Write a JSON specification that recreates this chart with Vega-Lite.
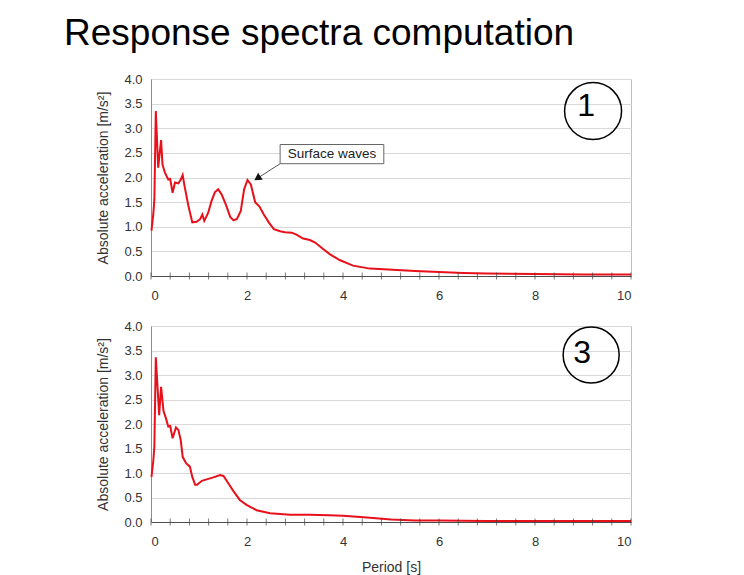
{
  "$schema": "https://vega.github.io/schema/vega-lite/v6.json",
  "autosize": {"type": "pad"},
  "padding": {"left": 64, "top": 14, "right": 113, "bottom": 5},
  "background": "white",
  "title": {
    "text": "Response spectra computation",
    "anchor": "start",
    "frame": "group",
    "font": "Liberation Sans",
    "fontSize": 37,
    "fontWeight": "normal",
    "color": "#000000",
    "baseline": "alphabetic",
    "dx": -87,
    "offset": -9
  },
  "datasets": {
    "motion1": [
      {"T": 0.01, "a": 0.92}, {"T": 0.05, "a": 1.28}, {"T": 0.07, "a": 1.55}, {"T": 0.10, "a": 3.35},
      {"T": 0.15, "a": 2.20}, {"T": 0.21, "a": 2.76}, {"T": 0.24, "a": 2.26}, {"T": 0.29, "a": 2.10},
      {"T": 0.36, "a": 1.96}, {"T": 0.40, "a": 1.97}, {"T": 0.45, "a": 1.69}, {"T": 0.50, "a": 1.90},
      {"T": 0.57, "a": 1.88}, {"T": 0.62, "a": 1.96}, {"T": 0.66, "a": 2.05}, {"T": 0.70, "a": 1.82},
      {"T": 0.78, "a": 1.42}, {"T": 0.86, "a": 1.09}, {"T": 0.95, "a": 1.10}, {"T": 1.02, "a": 1.15},
      {"T": 1.07, "a": 1.25}, {"T": 1.11, "a": 1.12}, {"T": 1.19, "a": 1.28}, {"T": 1.26, "a": 1.52},
      {"T": 1.33, "a": 1.70}, {"T": 1.40, "a": 1.76}, {"T": 1.47, "a": 1.66}, {"T": 1.56, "a": 1.45},
      {"T": 1.65, "a": 1.20}, {"T": 1.72, "a": 1.13}, {"T": 1.79, "a": 1.16}, {"T": 1.87, "a": 1.32},
      {"T": 1.94, "a": 1.76}, {"T": 2.01, "a": 1.95}, {"T": 2.08, "a": 1.86}, {"T": 2.17, "a": 1.50},
      {"T": 2.26, "a": 1.41}, {"T": 2.35, "a": 1.25}, {"T": 2.46, "a": 1.08}, {"T": 2.56, "a": 0.95},
      {"T": 2.69, "a": 0.91}, {"T": 2.79, "a": 0.89}, {"T": 2.93, "a": 0.88}, {"T": 3.03, "a": 0.84},
      {"T": 3.17, "a": 0.76}, {"T": 3.31, "a": 0.73}, {"T": 3.42, "a": 0.68}, {"T": 3.56, "a": 0.57},
      {"T": 3.73, "a": 0.44}, {"T": 3.94, "a": 0.32}, {"T": 4.21, "a": 0.21}, {"T": 4.56, "a": 0.15},
      {"T": 4.94, "a": 0.13}, {"T": 5.5, "a": 0.10}, {"T": 6.0, "a": 0.08}, {"T": 6.5, "a": 0.06},
      {"T": 7.0, "a": 0.05}, {"T": 8.0, "a": 0.04}, {"T": 9.0, "a": 0.03}, {"T": 10.0, "a": 0.03}
    ],
    "motion3": [
      {"T": 0.01, "a": 0.92}, {"T": 0.05, "a": 1.27}, {"T": 0.07, "a": 1.54}, {"T": 0.10, "a": 3.36},
      {"T": 0.17, "a": 2.18}, {"T": 0.21, "a": 2.76}, {"T": 0.26, "a": 2.27}, {"T": 0.31, "a": 2.12},
      {"T": 0.36, "a": 1.95}, {"T": 0.40, "a": 1.96}, {"T": 0.45, "a": 1.71}, {"T": 0.52, "a": 1.93},
      {"T": 0.57, "a": 1.88}, {"T": 0.62, "a": 1.67}, {"T": 0.66, "a": 1.33}, {"T": 0.73, "a": 1.20},
      {"T": 0.81, "a": 1.13}, {"T": 0.86, "a": 0.92}, {"T": 0.92, "a": 0.76}, {"T": 0.96, "a": 0.76},
      {"T": 1.06, "a": 0.84}, {"T": 1.16, "a": 0.87}, {"T": 1.30, "a": 0.91}, {"T": 1.44, "a": 0.96},
      {"T": 1.51, "a": 0.94}, {"T": 1.61, "a": 0.79}, {"T": 1.71, "a": 0.64}, {"T": 1.85, "a": 0.45},
      {"T": 1.99, "a": 0.35}, {"T": 2.20, "a": 0.24}, {"T": 2.48, "a": 0.18}, {"T": 2.90, "a": 0.15},
      {"T": 3.31, "a": 0.15}, {"T": 3.70, "a": 0.14}, {"T": 4.00, "a": 0.13}, {"T": 4.50, "a": 0.09},
      {"T": 5.00, "a": 0.05}, {"T": 5.50, "a": 0.03}, {"T": 6.00, "a": 0.03}, {"T": 7.00, "a": 0.02},
      {"T": 8.00, "a": 0.02}, {"T": 10.0, "a": 0.02}
    ],
    "xticks": [
      {"p": 0}, {"p": 0.4}, {"p": 0.8}, {"p": 1.2}, {"p": 1.6}, {"p": 2}, {"p": 2.4}, {"p": 2.8},
      {"p": 3.2}, {"p": 3.6}, {"p": 4}, {"p": 4.4}, {"p": 4.8}, {"p": 5.2}, {"p": 5.6}, {"p": 6},
      {"p": 6.4}, {"p": 6.8}, {"p": 7.2}, {"p": 7.6}, {"p": 8}, {"p": 8.4}, {"p": 8.8}, {"p": 9.2},
      {"p": 9.6}, {"p": 10}
    ]
  },
  "bounds": "flush",
  "spacing": 50,
  "vconcat": [
    {
      "width": 480,
      "height": 197,
      "layer": [
        {
          "data": {"name": "motion1"},
          "mark": {"type": "line", "color": "#e8101a", "strokeWidth": 2},
          "encoding": {
            "x": {"field": "T", "type": "quantitative", "scale": {"domain": [0, 10], "nice": false},
                  "axis": {"values": [0, 2, 4, 6, 8, 10], "tickSize": 0, "labelPadding": 13, "grid": false, "title": null}},
            "y": {"field": "a", "type": "quantitative", "scale": {"domain": [0, 4], "nice": false},
                  "axis": {"values": [0, 0.5, 1, 1.5, 2, 2.5, 3, 3.5, 4], "format": ".1f", "title": "Absolute acceleration [m/s²]"}}
          }
        },
        {
          "data": {"name": "xticks"},
          "mark": {"type": "tick", "orient": "vertical", "size": 7, "thickness": 1, "color": "#404040"},
          "encoding": {
            "x": {"field": "p", "type": "quantitative",
                  "axis": {"values": [0, 2, 4, 6, 8, 10], "tickSize": 0, "labelPadding": 13, "grid": false, "title": null}},
            "y": {"datum": 0,
                  "axis": {"values": [0, 0.5, 1, 1.5, 2, 2.5, 3, 3.5, 4], "format": ".1f", "title": "Absolute acceleration [m/s²]"}}
          }
        },
        {
          "data": {"values": [{}]},
          "mark": {"type": "rule", "color": "#555555", "strokeWidth": 1},
          "encoding": {
            "x": {"datum": 2.69, "axis": {"values": [0, 2, 4, 6, 8, 10], "tickSize": 0, "labelPadding": 13, "grid": false, "title": null}},
            "y": {"datum": 2.28, "axis": {"values": [0, 0.5, 1, 1.5, 2, 2.5, 3, 3.5, 4], "format": ".1f", "title": "Absolute acceleration [m/s²]"}},
            "x2": {"datum": 2.216}, "y2": {"datum": 1.984}
          }
        },
        {
          "data": {"values": [{}]},
          "mark": {"type": "point", "shape": "triangle-up", "angle": 237, "size": 70, "filled": true, "color": "#111111", "opacity": 1},
          "encoding": {
            "x": {"datum": 2.216, "axis": {"values": [0, 2, 4, 6, 8, 10], "tickSize": 0, "labelPadding": 13, "grid": false, "title": null}},
            "y": {"datum": 1.984, "axis": {"values": [0, 0.5, 1, 1.5, 2, 2.5, 3, 3.5, 4], "format": ".1f", "title": "Absolute acceleration [m/s²]"}}
          }
        },
        {
          "data": {"values": [{}]},
          "mark": {"type": "rect", "fill": "white", "stroke": "#666666", "strokeWidth": 1},
          "encoding": {
            "x": {"datum": 2.69, "axis": {"values": [0, 2, 4, 6, 8, 10], "tickSize": 0, "labelPadding": 13, "grid": false, "title": null}},
            "x2": {"datum": 4.85},
            "y": {"datum": 2.67, "axis": {"values": [0, 0.5, 1, 1.5, 2, 2.5, 3, 3.5, 4], "format": ".1f", "title": "Absolute acceleration [m/s²]"}},
            "y2": {"datum": 2.28}
          }
        },
        {
          "data": {"values": [{}]},
          "mark": {"type": "text", "text": "Surface waves", "font": "Liberation Sans", "fontSize": 13.5, "color": "#222222", "align": "center", "baseline": "middle"},
          "encoding": {
            "x": {"datum": 3.77, "axis": {"values": [0, 2, 4, 6, 8, 10], "tickSize": 0, "labelPadding": 13, "grid": false, "title": null}},
            "y": {"datum": 2.475, "axis": {"values": [0, 0.5, 1, 1.5, 2, 2.5, 3, 3.5, 4], "format": ".1f", "title": "Absolute acceleration [m/s²]"}}
          }
        },
        {
          "data": {"values": [{}]},
          "mark": {"type": "point", "shape": "circle", "size": 3249, "filled": false, "stroke": "#000000", "strokeWidth": 1.5, "opacity": 1},
          "encoding": {
            "x": {"datum": 9.21, "axis": {"values": [0, 2, 4, 6, 8, 10], "tickSize": 0, "labelPadding": 13, "grid": false, "title": null}},
            "y": {"datum": 3.35, "axis": {"values": [0, 0.5, 1, 1.5, 2, 2.5, 3, 3.5, 4], "format": ".1f", "title": "Absolute acceleration [m/s²]"}}
          }
        },
        {
          "data": {"values": [{}]},
          "mark": {"type": "text", "text": "1", "font": "Liberation Sans", "fontSize": 32, "color": "#000000", "align": "center", "baseline": "alphabetic", "dx": -7, "dy": 5},
          "encoding": {
            "x": {"datum": 9.21, "axis": {"values": [0, 2, 4, 6, 8, 10], "tickSize": 0, "labelPadding": 13, "grid": false, "title": null}},
            "y": {"datum": 3.35, "axis": {"values": [0, 0.5, 1, 1.5, 2, 2.5, 3, 3.5, 4], "format": ".1f", "title": "Absolute acceleration [m/s²]"}}
          }
        }
      ]
    },
    {
      "width": 480,
      "height": 196,
      "layer": [
        {
          "data": {"name": "motion3"},
          "mark": {"type": "line", "color": "#e8101a", "strokeWidth": 2},
          "encoding": {
            "x": {"field": "T", "type": "quantitative", "scale": {"domain": [0, 10], "nice": false},
                  "axis": {"values": [0, 2, 4, 6, 8, 10], "tickSize": 0, "labelPadding": 13, "grid": false, "title": "Period [s]", "titlePadding": 12}},
            "y": {"field": "a", "type": "quantitative", "scale": {"domain": [0, 4], "nice": false},
                  "axis": {"values": [0, 0.5, 1, 1.5, 2, 2.5, 3, 3.5, 4], "format": ".1f", "title": "Absolute acceleration [m/s²]"}}
          }
        },
        {
          "data": {"name": "xticks"},
          "mark": {"type": "tick", "orient": "vertical", "size": 7, "thickness": 1, "color": "#404040"},
          "encoding": {
            "x": {"field": "p", "type": "quantitative",
                  "axis": {"values": [0, 2, 4, 6, 8, 10], "tickSize": 0, "labelPadding": 13, "grid": false, "title": "Period [s]", "titlePadding": 12}},
            "y": {"datum": 0,
                  "axis": {"values": [0, 0.5, 1, 1.5, 2, 2.5, 3, 3.5, 4], "format": ".1f", "title": "Absolute acceleration [m/s²]"}}
          }
        },
        {
          "data": {"values": [{}]},
          "mark": {"type": "point", "shape": "circle", "size": 3136, "filled": false, "stroke": "#000000", "strokeWidth": 1.5, "opacity": 1},
          "encoding": {
            "x": {"datum": 9.17, "axis": {"values": [0, 2, 4, 6, 8, 10], "tickSize": 0, "labelPadding": 13, "grid": false, "title": "Period [s]", "titlePadding": 12}},
            "y": {"datum": 3.41, "axis": {"values": [0, 0.5, 1, 1.5, 2, 2.5, 3, 3.5, 4], "format": ".1f", "title": "Absolute acceleration [m/s²]"}}
          }
        },
        {
          "data": {"values": [{}]},
          "mark": {"type": "text", "text": "3", "font": "Liberation Sans", "fontSize": 32, "color": "#000000", "align": "center", "baseline": "alphabetic", "dx": -9, "dy": 8},
          "encoding": {
            "x": {"datum": 9.17, "axis": {"values": [0, 2, 4, 6, 8, 10], "tickSize": 0, "labelPadding": 13, "grid": false, "title": "Period [s]", "titlePadding": 12}},
            "y": {"datum": 3.41, "axis": {"values": [0, 0.5, 1, 1.5, 2, 2.5, 3, 3.5, 4], "format": ".1f", "title": "Absolute acceleration [m/s²]"}}
          }
        }
      ]
    }
  ],
  "config": {
    "font": "Liberation Sans",
    "view": {"stroke": "#bfbfbf", "strokeWidth": 1},
    "axis": {
      "labelFont": "Liberation Sans",
      "titleFont": "Liberation Sans",
      "labelFontSize": 13,
      "labelColor": "#333333",
      "labelOverlap": false,
      "titleFontSize": 14,
      "titleFontWeight": "normal",
      "titleColor": "#333333"
    },
    "axisX": {"domainColor": "#4d4d4d", "domainWidth": 1.2},
    "axisY": {
      "domainColor": "#8c8c8c",
      "tickSize": 0,
      "gridColor": "#d9d9d9",
      "labelPadding": 9,
      "titlePadding": 13
    }
  }
}
